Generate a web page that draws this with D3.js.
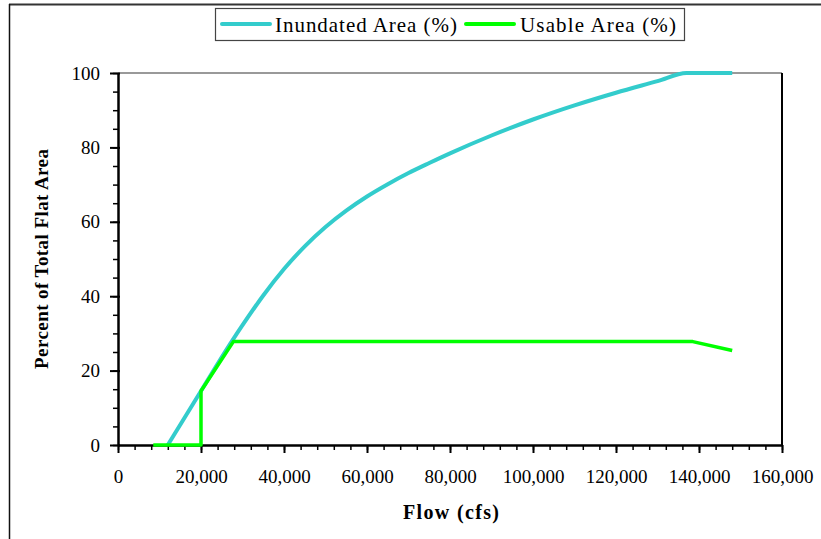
<!DOCTYPE html>
<html lang="en">
<head>
    <meta charset="UTF-8">
    <title>Inundated and Usable Area vs Flow</title>
    <script src="https://d3js.org/d3.v7.min.js"></script>
    <style>
        body { margin: 0; background: #fff; }
        text { font-family: "Liberation Serif", "Times New Roman", serif; fill: #000; }
    </style>
</head>
<body>
    <div id="chart"></div>

    <script>
        // flow (cfs) and percent values
        const inundatedFlow = [12000, 20000, 27500, 30000, 35000, 40000, 45000, 50000, 55000, 60000, 65000, 70000, 75000, 80000, 90000, 100000, 110000, 120000, 130000, 137000, 148000];
        const inundatedPct  = [0, 14.5, 28, 32.2, 40.2, 47.3, 53.4, 58.6, 63.0, 66.8, 70.1, 73.1, 75.8, 78.4, 83.2, 87.5, 91.3, 94.7, 97.8, 100, 100];

        const usableFlow = [8500, 20000, 20000, 27800, 138500, 148000];
        const usablePct  = [0, 0, 14.5, 27.8, 27.8, 25.4];

        const xTicks = [0, 20000, 40000, 60000, 80000, 100000, 120000, 140000, 160000];
        const yTicks = [0, 20, 40, 60, 80, 100];

        const seriesNames = ["Inundated Area (%)", "Usable Area (%)"];
        const seriesColors = ["#33cccc", "#00ff00"];

        const width = 821, height = 539;
        const margin = { top: 73, right: 39, bottom: 94, left: 118 };

        const svg = d3.select("#chart").append("svg")
            .attr("width", width)
            .attr("height", height);

        // outer frame (top and left edges visible)
        svg.append("line").attr("x1", 9).attr("x2", width).attr("y1", 4.5).attr("y2", 4.5)
            .attr("stroke", "#333").attr("stroke-width", 2);
        svg.append("line").attr("x1", 9.5).attr("x2", 9.5).attr("y1", 4).attr("y2", height)
            .attr("stroke", "#111").attr("stroke-width", 1.5);

        const x = d3.scaleLinear().domain([0, 160000]).range([margin.left, width - margin.right]);
        const y = d3.scaleLinear().domain([0, 100]).range([height - margin.bottom, margin.top]);

        // plot area border: top and right
        svg.append("line").attr("x1", x(0)).attr("x2", x(160000)).attr("y1", y(100)).attr("y2", y(100))
            .attr("stroke", "#777").attr("stroke-width", 1.5);
        svg.append("line").attr("x1", x(160000)).attr("x2", x(160000)).attr("y1", y(100)).attr("y2", y(0))
            .attr("stroke", "#000").attr("stroke-width", 2);

        // x axis: minor ticks every 4,000
        svg.append("g")
            .attr("transform", `translate(0,${y(0)})`)
            .call(d3.axisBottom(x).tickValues(d3.range(0, 160001, 4000)).tickSize(5).tickFormat(""))
            .call(g => g.select(".domain").remove())
            .selectAll("line").attr("stroke-width", 1.5);
        const xAxis = svg.append("g")
            .attr("transform", `translate(0,${y(0)})`)
            .call(d3.axisBottom(x).tickValues(xTicks).tickSize(8).tickSizeOuter(0).tickPadding(17)
                .tickFormat(d3.format(",")));
        xAxis.select(".domain").attr("stroke-width", 2.5);
        xAxis.selectAll("line").attr("stroke-width", 2);
        xAxis.selectAll("text").style("font-size", "19px");

        // y axis: minor ticks every 5
        svg.append("g")
            .attr("transform", `translate(${x(0)},0)`)
            .call(d3.axisLeft(y).tickValues(d3.range(0, 101, 5)).tickSize(5).tickFormat(""))
            .call(g => g.select(".domain").remove())
            .selectAll("line").attr("stroke-width", 1.5);
        const yAxis = svg.append("g")
            .attr("transform", `translate(${x(0)},0)`)
            .call(d3.axisLeft(y).tickValues(yTicks).tickSize(8).tickSizeOuter(0).tickPadding(10));
        yAxis.select(".domain").attr("stroke-width", 2.5);
        yAxis.selectAll(".tick line").attr("x2", -8).attr("x1", 2).attr("stroke-width", 2);
        yAxis.selectAll("text").style("font-size", "19px");

        // series
        const inundated = inundatedFlow.map((f, i) => [f, inundatedPct[i]]);
        const usable = usableFlow.map((f, i) => [f, usablePct[i]]);

        const smooth = d3.line().x(d => x(d[0])).y(d => y(d[1])).curve(d3.curveMonotoneX);
        const straight = d3.line().x(d => x(d[0])).y(d => y(d[1]));

        svg.append("path").datum(inundated)
            .attr("d", smooth)
            .attr("fill", "none")
            .attr("stroke", seriesColors[0])
            .attr("stroke-width", 4);

        svg.append("path").datum(usable)
            .attr("d", straight)
            .attr("fill", "none")
            .attr("stroke", seriesColors[1])
            .attr("stroke-width", 3.5)
            .attr("stroke-linejoin", "round");

        // axis titles
        svg.append("text")
            .attr("x", 451).attr("y", 519)
            .attr("text-anchor", "middle")
            .style("font-size", "20px").style("font-weight", "bold")
            .attr("textLength", 96)
            .text("Flow (cfs)");

        svg.append("text")
            .attr("transform", "translate(48,259) rotate(-90)")
            .attr("text-anchor", "middle")
            .style("font-size", "19px").style("font-weight", "bold")
            .attr("textLength", 220)
            .text("Percent of Total Flat Area");

        // legend
        const legend = svg.append("g");
        legend.append("rect")
            .attr("x", 215.5).attr("y", 8.5).attr("width", 469).attr("height", 32)
            .attr("fill", "#fff").attr("stroke", "#444").attr("stroke-width", 1.2);
        const legendItems = [
            { x: 222, tx: 275, len: 182 },
            { x: 466, tx: 520, len: 156 }
        ];
        legendItems.forEach((it, i) => {
            legend.append("line")
                .attr("x1", it.x).attr("x2", it.x + 48).attr("y1", 24).attr("y2", 24)
                .attr("stroke", seriesColors[i]).attr("stroke-width", 4).attr("stroke-linecap", "round");
            legend.append("text")
                .attr("x", it.tx).attr("y", 32)
                .style("font-size", "21px")
                .attr("textLength", it.len)
                .text(seriesNames[i]);
        });
    </script>
</body>
</html>
